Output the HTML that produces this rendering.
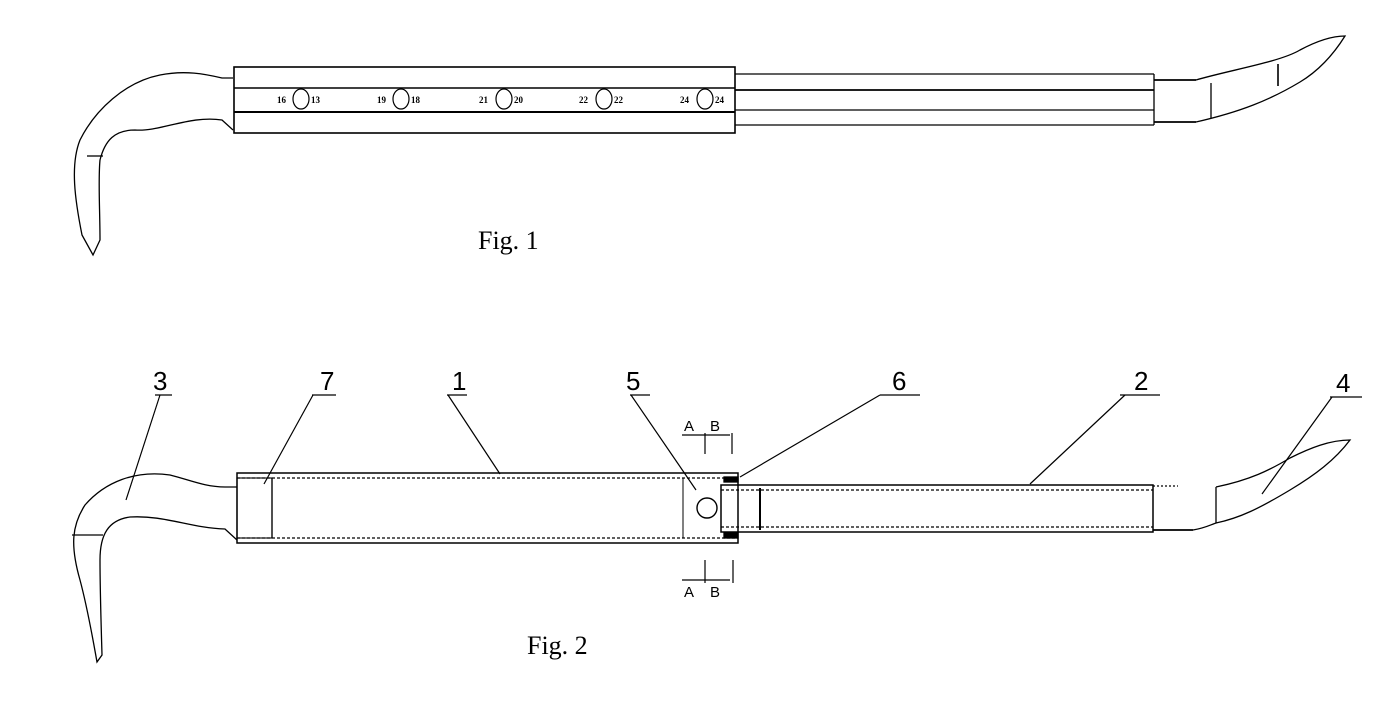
<!DOCTYPE html>
<html><head><meta charset="utf-8"><style>
html,body{margin:0;padding:0;background:#fff;}
svg{display:block}
text{font-family:"Liberation Serif",serif;fill:#000}
</style></head><body>
<svg width="1394" height="712" viewBox="0 0 1394 712" xmlns="http://www.w3.org/2000/svg" fill="none" stroke="#000" stroke-width="1.3">
<!-- FIG 1 -->
<path d="M233,78 L222,78 C205,74 185,70 160,75 C125,82 95,110 80,140 C70,165 75,200 82,235 L93,255 L100,240 C100,210 98,180 100,160 C105,140 115,130 135,130 C160,132 190,115 222,120 L233,130"/>
<line x1="87" y1="156" x2="103" y2="156"/>
<rect x="234" y="67" width="501" height="66" stroke-width="1.6"/>
<line x1="234" y1="88" x2="735" y2="88" stroke-width="1.6"/>
<line x1="234" y1="112" x2="735" y2="112" stroke-width="2"/>
<line x1="735" y1="74" x2="1154" y2="74"/>
<line x1="735" y1="90" x2="1154" y2="90" stroke-width="1.8"/>
<line x1="735" y1="110" x2="1154" y2="110"/>
<line x1="735" y1="125" x2="1154" y2="125"/>
<line x1="1154" y1="74" x2="1154" y2="125"/>
<line x1="1154" y1="80" x2="1196" y2="80" stroke-width="1.8"/>
<line x1="1154" y1="122" x2="1196" y2="122" stroke-width="1.8"/>
<path d="M1196,80 C1230,70 1280,62 1300,50 C1315,42 1330,36 1345,36 C1335,52 1320,70 1300,82 C1270,100 1240,112 1196,122"/>
<line x1="1278" y1="64" x2="1278" y2="86" stroke-width="1.6"/>
<line x1="1211" y1="83" x2="1211" y2="118"/>
<g stroke-width="1.2">
<ellipse cx="301" cy="99" rx="8" ry="10"/><ellipse cx="401" cy="99" rx="8" ry="10"/><ellipse cx="504" cy="99" rx="8" ry="10"/><ellipse cx="604" cy="99" rx="8" ry="10"/><ellipse cx="705" cy="99" rx="8" ry="10"/>
</g>
<g font-size="9" font-weight="bold" stroke="none">
<text x="277" y="103">16</text><text x="311" y="103">13</text>
<text x="377" y="103">19</text><text x="411" y="103">18</text>
<text x="479" y="103">21</text><text x="514" y="103">20</text>
<text x="579" y="103">22</text><text x="614" y="103">22</text>
<text x="680" y="103">24</text><text x="715" y="103">24</text>
</g>
<text x="478" y="249" font-size="26" stroke="none">Fig. 1</text>
<!-- FIG 2 -->
<path d="M237,487 L225,487 C205,487 190,480 170,475 C135,470 105,482 85,505 C72,525 70,545 80,580 C88,610 93,640 97,662 L102,655 C101,620 100,590 100,560 C100,535 108,520 130,517 C165,515 190,528 225,529 L237,540"/>
<line x1="72" y1="535" x2="103" y2="535"/>
<rect x="237" y="473" width="501" height="70" stroke-width="1.5"/>
<line x1="237" y1="478" x2="738" y2="478" stroke-dasharray="3,2"/>
<line x1="237" y1="538" x2="738" y2="538" stroke-dasharray="3,2"/>
<rect x="237" y="478" width="35" height="60" stroke-width="1.1"/>
<line x1="272" y1="478" x2="272" y2="538"/>
<line x1="683" y1="478" x2="683" y2="538" stroke-width="1"/>
<circle cx="707" cy="508" r="10" stroke-width="1.4"/>
<rect x="721" y="485" width="432" height="47" stroke-width="1.5"/>
<line x1="721" y1="490" x2="1153" y2="490" stroke-dasharray="3,2"/>
<line x1="721" y1="527" x2="1153" y2="527" stroke-dasharray="3,2"/>
<line x1="760" y1="488" x2="760" y2="530" stroke-width="2"/>
<rect x="724" y="477" width="14" height="5" fill="#000"/>
<rect x="724" y="533" width="14" height="5" fill="#000"/>
<line x1="1153" y1="486" x2="1178" y2="486" stroke-dasharray="2,2"/>
<line x1="1153" y1="530" x2="1193" y2="530" stroke-width="1.8"/>
<path d="M1216,487 C1250,480 1270,470 1290,458 C1310,448 1330,440 1350,440 C1335,460 1315,475 1290,490 C1260,508 1240,518 1216,523 L1216,487"/>
<path d="M1193,530 C1205,528 1210,525 1216,523"/>
<g stroke-width="1.2">
<line x1="155" y1="395" x2="172" y2="395"/><line x1="160" y1="395" x2="126" y2="500"/>
<line x1="312" y1="395" x2="336" y2="395"/><line x1="313" y1="395" x2="264" y2="484"/>
<line x1="447" y1="395" x2="467" y2="395"/><line x1="448" y1="395" x2="500" y2="474"/>
<line x1="630" y1="395" x2="650" y2="395"/><line x1="631" y1="395" x2="696" y2="490"/>
<line x1="880" y1="395" x2="920" y2="395"/><line x1="880" y1="395" x2="740" y2="477"/>
<line x1="1120" y1="395" x2="1160" y2="395"/><line x1="1125" y1="395" x2="1030" y2="484"/>
<line x1="1330" y1="397" x2="1362" y2="397"/><line x1="1332" y1="397" x2="1262" y2="494"/>
</g>
<g font-size="26" stroke="none" font-family="Liberation Sans,sans-serif">
<text x="153" y="390" style="font-family:'Liberation Sans',sans-serif">3</text>
<text x="320" y="390" style="font-family:'Liberation Sans',sans-serif">7</text>
<text x="452" y="390" style="font-family:'Liberation Sans',sans-serif">1</text>
<text x="626" y="390" style="font-family:'Liberation Sans',sans-serif">5</text>
<text x="892" y="390" style="font-family:'Liberation Sans',sans-serif">6</text>
<text x="1134" y="390" style="font-family:'Liberation Sans',sans-serif">2</text>
<text x="1336" y="392" style="font-family:'Liberation Sans',sans-serif">4</text>
</g>
<g stroke-width="1.2">
<line x1="682" y1="435" x2="730" y2="435"/><line x1="705" y1="433" x2="705" y2="454"/><line x1="732" y1="433" x2="732" y2="454"/>
<line x1="682" y1="580" x2="730" y2="580"/><line x1="705" y1="560" x2="705" y2="583"/><line x1="733" y1="560" x2="733" y2="583"/>
</g>
<g font-size="15" stroke="none" style="font-family:'Liberation Sans',sans-serif">
<text x="684" y="431" style="font-family:'Liberation Sans',sans-serif">A</text><text x="710" y="431" style="font-family:'Liberation Sans',sans-serif">B</text>
<text x="684" y="597" style="font-family:'Liberation Sans',sans-serif">A</text><text x="710" y="597" style="font-family:'Liberation Sans',sans-serif">B</text>
</g>
<text x="527" y="654" font-size="26" stroke="none">Fig. 2</text>
</svg>
</body></html>
